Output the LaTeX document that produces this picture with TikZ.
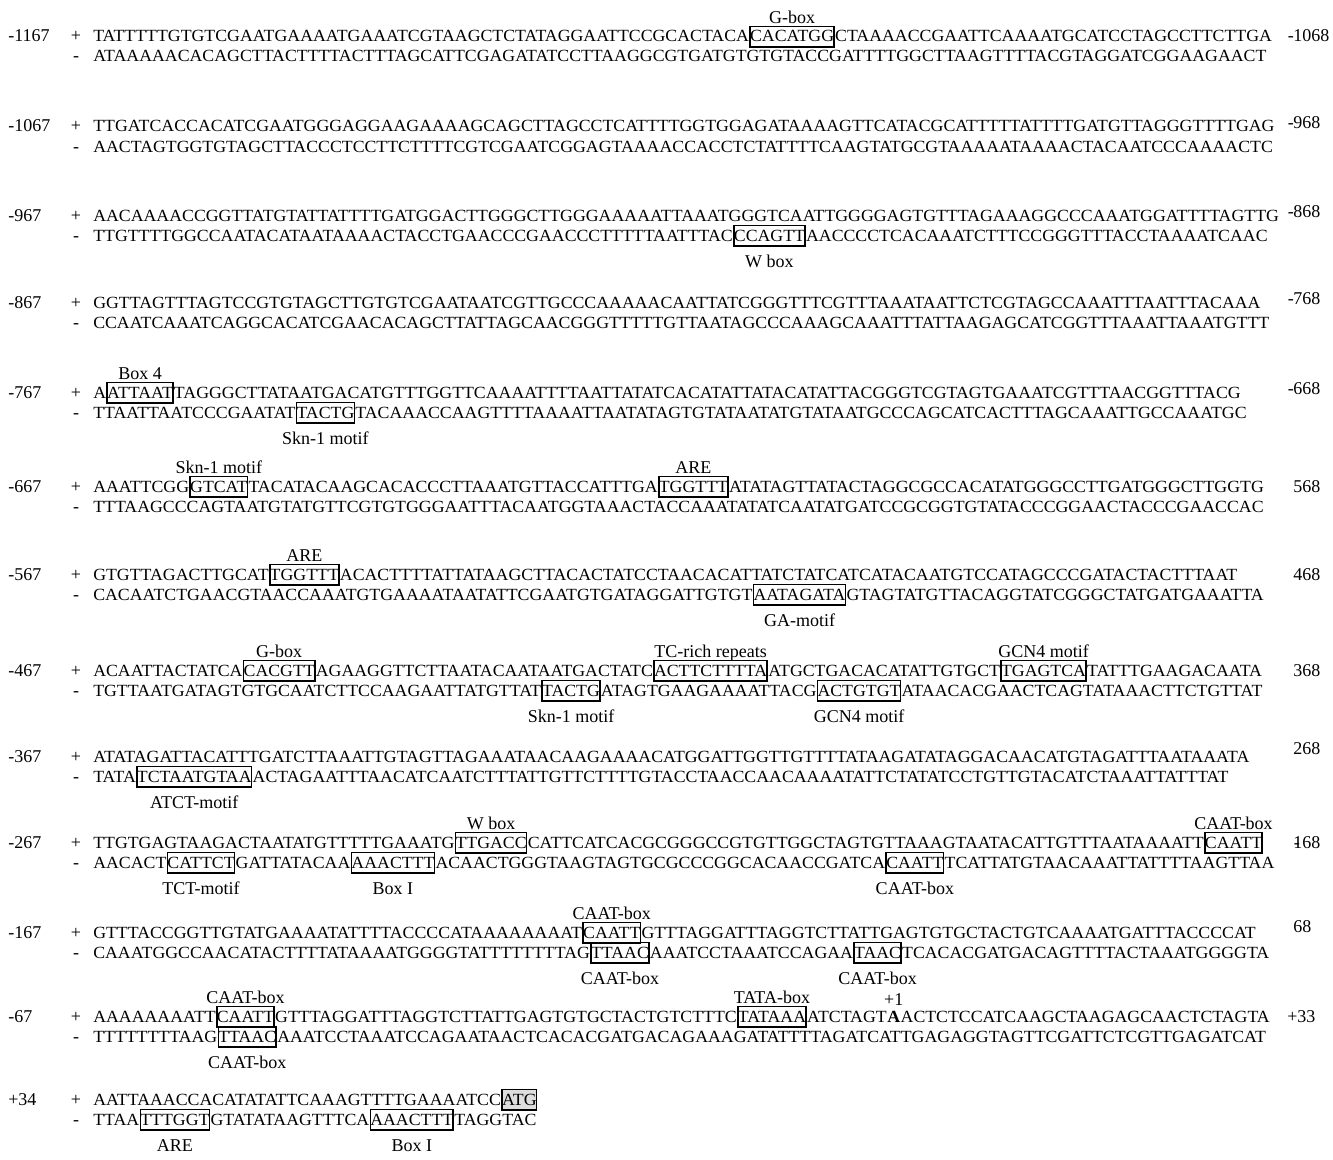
\documentclass[tikz,border=0pt]{standalone}
\usepackage{fontspec}
\setmainfont{Liberation Serif}
\newfontfamily\seqfont[FakeStretch=1.042]{Liberation Serif}
\tikzset{
 seq/.style={font=\seqfont\fontsize{12.8}{14}\selectfont, inner sep=0pt, anchor=base west, text height=8.5pt, text depth=0pt},
 bx/.style={seq, draw, line width=1.2pt, text height=11.5pt, text depth=3.9pt},
 gbx/.style={bx, fill=black!13},
 bseq/.style={seq, font=\seqfont\bfseries\fontsize{12.8}{14}\selectfont},
 lbl/.style={font=\fontsize{13.5}{16}\selectfont, inner sep=0pt, text height=9pt, text depth=0pt},
 up/.style={lbl, anchor=south, yshift=1.8pt},
 dn/.style={lbl, anchor=north, yshift=-6pt},
 num/.style={lbl, anchor=base west},
 sgn/.style={lbl, anchor=base},
}
\begin{document}
\begin{tikzpicture}[x=0.75pt,y=-0.75pt]
\useasboundingbox (0,0) rectangle (1333,1159);
% ---------- Block 1
\node[num] (n1) at (8,42) {-1167};
\node[sgn] (s1p) at (76,42) {+};
\node[sgn] (s1m) at (76,62) {-};
\node[seq] (p1a) at (93,42) {TATTTTTGTGTCGAATGAAAATGAAATCGTAAGCTCTATAGGAATTCCGCACTACA};
\node[bx] (p1b) at (p1a.base east) {CACATGG};
\node[seq] (p1c) at (p1b.base east) {CTAAAACCGAATTCAAAATGCATCCTAGCCTTCTTGA};
\node[up] (l1a) at (p1b.north) {G-box};
\node[seq] (m1a) at (93,62) {ATAAAAACACAGCTTACTTTTACTTTAGCATTCGAGATATCCTTAAGGCGTGATGTGTGTACCGATTTTGGCTTAAGTTTTACGTAGGATCGGAAGAACT};
\node[num] (r1) at (1293,42) {\llap{-\kern-0.5pt}1068};
% ---------- Block 2
\node[num] (n2) at (8,132) {-1067};
\node[sgn] (s2p) at (76,132) {+};
\node[sgn] (s2m) at (76,152) {-};
\node[seq] (p2a) at (93,132) {TTGATCACCACATCGAATGGGAGGAAGAAAAGCAGCTTAGCCTCATTTTGGTGGAGATAAAAGTTCATACGCATTTTTATTTTGATGTTAGGGTTTTGAG};
\node[seq] (m2a) at (93,152) {AACTAGTGGTGTAGCTTACCCTCCTTCTTTTCGTCGAATCGGAGTAAAACCACCTCTATTTTCAAGTATGCGTAAAAATAAAACTACAATCCCAAAACTC};
\node[num] (r2) at (1293,128) {\llap{-\kern-0.5pt}968};
% ---------- Block 3
\node[num] (n3) at (8,221) {-967};
\node[sgn] (s3p) at (76,221) {+};
\node[sgn] (s3m) at (76,241) {-};
\node[seq] (p3a) at (93,221) {AACAAAACCGGTTATGTATTATTTTGATGGACTTGGGCTTGGGAAAAATTAAATGGGTCAATTGGGGAGTGTTTAGAAAGGCCCAAATGGATTTTAGTTG};
\node[seq] (m3a) at (93,241) {TTGTTTTGGCCAATACATAATAAAACTACCTGAACCCGAACCCTTTTTAATTTAC};
\node[bx] (m3b) at (m3a.base east) {CCAGTT};
\node[seq] (m3c) at (m3b.base east) {AACCCCTCACAAATCTTTCCGGGTTTACCTAAAATCAAC};
\node[dn] (l3a) at (m3b.south) {W box};
\node[num] (r3) at (1293,217) {\llap{-\kern-0.5pt}868};
% ---------- Block 4
\node[num] (n4) at (8,308) {-867};
\node[sgn] (s4p) at (76,308) {+};
\node[sgn] (s4m) at (76,328) {-};
\node[seq] (p4a) at (93,308) {GGTTAGTTTAGTCCGTGTAGCTTGTGTCGAATAATCGTTGCCCAAAAACAATTATCGGGTTTCGTTTAAATAATTCTCGTAGCCAAATTTAATTTACAAA};
\node[seq] (m4a) at (93,328) {CCAATCAAATCAGGCACATCGAACACAGCTTATTAGCAACGGGTTTTTGTTAATAGCCCAAAGCAAATTTATTAAGAGCATCGGTTTAAATTAAATGTTT};
\node[num] (r4) at (1293,304) {\llap{-\kern-0.5pt}768};
% ---------- Block 5
\node[num] (n5) at (8,398) {-767};
\node[sgn] (s5p) at (76,398) {+};
\node[sgn] (s5m) at (76,418) {-};
\node[seq] (p5a) at (93,398) {A};
\node[bx] (p5b) at (p5a.base east) {ATTAAT};
\node[seq] (p5c) at (p5b.base east) {TAGGGCTTATAATGACATGTTTGGTTCAAAATTTTAATTATATCACATATTATACATATTACGGGTCGTAGTGAAATCGTTTAACGGTTTACG};
\node[up] (l5a) at (p5b.north) {Box 4};
\node[seq] (m5a) at (93,418) {TTAATTAATCCCGAATAT};
\node[bx] (m5b) at (m5a.base east) {TACTG};
\node[seq] (m5c) at (m5b.base east) {TACAAACCAAGTTTTAAAATTAATATAGTGTATAATATGTATAATGCCCAGCATCACTTTAGCAAATTGCCAAATGC};
\node[dn] (l5b) at (m5b.south) {Skn-1 motif};
\node[num] (r5) at (1293,394) {\llap{-\kern-0.5pt}668};
% ---------- Block 6
\node[num] (n6) at (8,492) {-667};
\node[sgn] (s6p) at (76,492) {+};
\node[sgn] (s6m) at (76,512) {-};
\node[seq] (p6a) at (93,492) {AAATTCGG};
\node[bx] (p6b) at (p6a.base east) {GTCAT};
\node[seq] (p6c) at (p6b.base east) {TACATACAAGCACACCCTTAAATGTTACCATTTGA};
\node[bx] (p6d) at (p6c.base east) {TGGTTT};
\node[seq] (p6e) at (p6d.base east) {ATATAGTTATACTAGGCGCCACATATGGGCCTTGATGGGCTTGGTG};
\node[up] (l6a) at (p6b.north) {Skn-1 motif};
\node[up] (l6b) at (p6d.north) {ARE};
\node[seq] (m6a) at (93,512) {TTTAAGCCCAGTAATGTATGTTCGTGTGGGAATTTACAATGGTAAACTACCAAATATATCAATATGATCCGCGGTGTATACCCGGAACTACCCGAACCAC};
\node[num] (r6) at (1293,492) {568};
% ---------- Block 7
\node[num] (n7) at (8,580) {-567};
\node[sgn] (s7p) at (76,580) {+};
\node[sgn] (s7m) at (76,600) {-};
\node[seq] (p7a) at (93,580) {GTGTTAGACTTGCAT};
\node[bx] (p7b) at (p7a.base east) {TGGTTT};
\node[seq] (p7c) at (p7b.base east) {ACACTTTTATTATAAGCTTACACTATCCTAACACATTATCTATCATCATACAATGTCCATAGCCCGATACTACTTTAAT};
\node[up] (l7a) at (p7b.north) {ARE};
\node[seq] (m7a) at (93,600) {CACAATCTGAACGTAACCAAATGTGAAAATAATATTCGAATGTGATAGGATTGTGT};
\node[bx] (m7b) at (m7a.base east) {AATAGATA};
\node[seq] (m7c) at (m7b.base east) {GTAGTATGTTACAGGTATCGGGCTATGATGAAATTA};
\node[dn] (l7b) at (m7b.south) {GA-motif};
\node[num] (r7) at (1293,580) {468};
% ---------- Block 8
\node[num] (n8) at (8,676) {-467};
\node[sgn] (s8p) at (76,676) {+};
\node[sgn] (s8m) at (76,696) {-};
\node[seq] (p8a) at (93,676) {ACAATTACTATCA};
\node[bx] (p8b) at (p8a.base east) {CACGTT};
\node[seq] (p8c) at (p8b.base east) {AGAAGGTTCTTAATACAATAATGACTATC};
\node[bx] (p8d) at (p8c.base east) {ACTTCTTTTA};
\node[seq] (p8e) at (p8d.base east) {ATGCTGACACATATTGTGCT};
\node[bx] (p8f) at (p8e.base east) {TGAGTCA};
\node[seq] (p8g) at (p8f.base east) {TATTTGAAGACAATA};
\node[up] (l8a) at (p8b.north) {G-box};
\node[up] (l8b) at (p8d.north) {TC-rich repeats};
\node[up] (l8c) at (p8f.north) {GCN4 motif};
\node[seq] (m8a) at (93,696) {TGTTAATGATAGTGTGCAATCTTCCAAGAATTATGTTAT};
\node[bx] (m8b) at (m8a.base east) {TACTG};
\node[seq] (m8c) at (m8b.base east) {ATAGTGAAGAAAATTACG};
\node[bx] (m8d) at (m8c.base east) {ACTGTGT};
\node[seq] (m8e) at (m8d.base east) {ATAACACGAACTCAGTATAAACTTCTGTTAT};
\node[dn] (l8d) at (m8b.south) {Skn-1 motif};
\node[dn] (l8e) at (m8d.south) {GCN4 motif};
\node[num] (r8) at (1293,676) {368};
% ---------- Block 9
\node[num] (n9) at (8,762) {-367};
\node[sgn] (s9p) at (76,762) {+};
\node[sgn] (s9m) at (76,782) {-};
\node[seq] (p9a) at (93,762) {ATATAGATTACATTTGATCTTAAATTGTAGTTAGAAATAACAAGAAAACATGGATTGGTTGTTTTATAAGATATAGGACAACATGTAGATTTAATAAATA};
\node[seq] (m9a) at (93,782) {TATA};
\node[bx] (m9b) at (m9a.base east) {TCTAATGTAA};
\node[seq] (m9c) at (m9b.base east) {ACTAGAATTTAACATCAATCTTTATTGTTCTTTTGTACCTAACCAACAAAATATTCTATATCCTGTTGTACATCTAAATTATTTAT};
\node[dn] (l9a) at (m9b.south) {ATCT-motif};
\node[num] (r9) at (1293,754) {268};
% ---------- Block 10
\node[num] (n10) at (8,848) {-267};
\node[sgn] (s10p) at (76,848) {+};
\node[sgn] (s10m) at (76,868) {-};
\node[seq] (p10a) at (93,848) {TTGTGAGTAAGACTAATATGTTTTTGAAATG};
\node[bx] (p10b) at (p10a.base east) {TTGACC};
\node[seq] (p10c) at (p10b.base east) {CATTCATCACGCGGGCCGTGTTGGCTAGTGTTAAAGTAATACATTGTTTAATAAAATT};
\node[bx] (p10d) at (p10c.base east) {CAATT};
\node[up] (l10a) at (p10b.north) {W box};
\node[up] (l10b) at (p10d.north) {CAAT-box};
\node[seq] (m10a) at (93,868) {AACACT};
\node[bx] (m10b) at (m10a.base east) {CATTCT};
\node[seq] (m10c) at (m10b.base east) {GATTATACAA};
\node[bx] (m10d) at (m10c.base east) {AAACTTT};
\node[seq] (m10e) at (m10d.base east) {ACAACTGGGTAAGTAGTGCGCCCGGCACAACCGATCA};
\node[bx] (m10f) at (m10e.base east) {CAATT};
\node[seq] (m10g) at (m10f.base east) {TCATTATGTAACAAATTATTTTAAGTTAA};
\node[dn] (l10c) at (m10b.south) {TCT-motif};
\node[dn] (l10d) at (m10d.south) {Box I};
\node[dn] (l10e) at (m10f.south) {CAAT-box};
\node[num] (r10) at (1293,848) {\llap{-\kern-5pt}168};
% ---------- Block 11
\node[num] (n11) at (8,938) {-167};
\node[sgn] (s11p) at (76,938) {+};
\node[sgn] (s11m) at (76,958) {-};
\node[seq] (p11a) at (93,938) {GTTTACCGGTTGTATGAAAATATTTTACCCCATAAAAAAAAT};
\node[bx] (p11b) at (p11a.base east) {CAATT};
\node[seq] (p11c) at (p11b.base east) {GTTTAGGATTTAGGTCTTATTGAGTGTGCTACTGTCAAAATGATTTACCCCAT};
\node[up] (l11a) at (p11b.north) {CAAT-box};
\node[seq] (m11a) at (93,958) {CAAATGGCCAACATACTTTTATAAAATGGGGTATTTTTTTTAG};
\node[bx] (m11b) at (m11a.base east) {TTAAC};
\node[seq] (m11c) at (m11b.base east) {AAATCCTAAATCCAGAA};
\node[bx] (m11d) at (m11c.base east) {TAAC};
\node[seq] (m11e) at (m11d.base east) {TCACACGATGACAGTTTTACTAAATGGGGTA};
\node[dn] (l11b) at (m11b.south) {CAAT-box};
\node[dn] (l11c) at (m11d.south) {CAAT-box};
\node[num] (r11) at (1293,932) {68};
% ---------- Block 12
\node[num] (n12) at (8,1022) {-67};
\node[sgn] (s12p) at (76,1022) {+};
\node[sgn] (s12m) at (76,1042) {-};
\node[seq] (p12a) at (93,1022) {AAAAAAAATT};
\node[bx] (p12b) at (p12a.base east) {CAATT};
\node[seq] (p12c) at (p12b.base east) {GTTTAGGATTTAGGTCTTATTGAGTGTGCTACTGTCTTTC};
\node[bx] (p12d) at (p12c.base east) {TATAAA};
\node[seq] (p12e) at (p12d.base east) {ATCTAGT};
\node[bseq] (p12f) at (p12e.base east) {A};
\node[seq] (p12g) at (p12f.base east) {ACTCTCCATCAAGCTAAGAGCAACTCTAGTA};
\node[up] (l12a) at (p12b.north) {CAAT-box};
\node[up] (l12b) at (p12d.north) {TATA-box};
\node[up, yshift=1.5pt] (l12c) at (p12f.north) {+1};
\node[seq] (m12a) at (93,1042) {TTTTTTTTAAG};
\node[bx] (m12b) at (m12a.base east) {TTAAC};
\node[seq] (m12c) at (m12b.base east) {AAATCCTAAATCCAGAATAACTCACACGATGACAGAAAGATATTTTAGATCATTGAGAGGTAGTTCGATTCTCGTTGAGATCAT};
\node[dn] (l12d) at (m12b.south) {CAAT-box};
\node[num] (r12) at (1287,1022) {+33};
% ---------- Block 13
\node[num] (n13) at (8,1105) {+34};
\node[sgn] (s13p) at (76,1105) {+};
\node[sgn] (s13m) at (76,1125) {-};
\node[seq] (p13a) at (93,1105) {AATTAAACCACATATATTCAAAGTTTTGAAAATCC};
\node[gbx] (p13b) at (p13a.base east) {ATG};
\node[seq] (m13a) at (93,1125) {TTAA};
\node[bx] (m13b) at (m13a.base east) {TTTGGT};
\node[seq] (m13c) at (m13b.base east) {GTATATAAGTTTCA};
\node[bx] (m13d) at (m13c.base east) {AAACTTT};
\node[seq] (m13e) at (m13d.base east) {TAGGTAC};
\node[dn] (l13a) at (m13b.south) {ARE};
\node[dn] (l13b) at (m13d.south) {Box I};
\end{tikzpicture}
\end{document}
